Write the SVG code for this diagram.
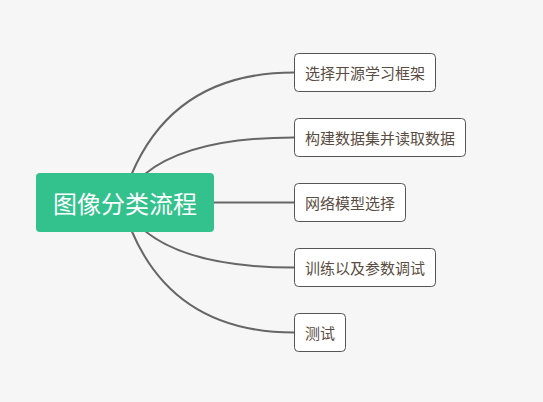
<svg xmlns="http://www.w3.org/2000/svg" width="543" height="402" viewBox="0 0 543 402">
<style>
.bg{fill:#f6f6f6}
.conn path{fill:none;stroke:#666;stroke-width:2}
.child rect{fill:#fff;stroke:#555;stroke-width:1}
.child text{font-family:"Noto Sans CJK SC","Noto Sans",sans-serif;font-size:15px;fill:#5a4c42;dominant-baseline:central}
.root rect{fill:#33c18d}
.root text{font-family:"Noto Sans CJK SC","Noto Sans",sans-serif;font-size:24px;fill:#fff;dominant-baseline:central;text-anchor:middle}
</style>
<rect class="bg" x="0" y="0" width="543" height="402"/>
<g id="connectors" class="conn">
<path d="M131.7 174 Q175 72.5 294 72.5"/>
<path d="M145 174 Q190 137.5 294 137.5"/>
<path d="M214 202.5 L294 202.5"/>
<path d="M145 231 Q190 267.5 294 267.5"/>
<path d="M131.7 231 Q175 332.5 294 332.5"/>
</g>
<g id="root" class="root">
<rect x="36" y="173" width="178" height="59" rx="4"/>
<text x="125" y="202.5">图像分类流程</text>
</g>
<g id="n1" class="child">
<rect x="294.5" y="53.5" width="141" height="38" rx="4"/>
<text x="305" y="72.5">选择开源学习框架</text>
</g>
<g id="n2" class="child">
<rect x="294.5" y="118.5" width="171" height="38" rx="4"/>
<text x="305" y="137.5">构建数据集并读取数据</text>
</g>
<g id="n3" class="child">
<rect x="294.5" y="183.5" width="111" height="38" rx="4"/>
<text x="305" y="202.5">网络模型选择</text>
</g>
<g id="n4" class="child">
<rect x="294.5" y="248.5" width="141" height="38" rx="4"/>
<text x="305" y="267.5">训练以及参数调试</text>
</g>
<g id="n5" class="child">
<rect x="294.5" y="313.5" width="51" height="38" rx="4"/>
<text x="305" y="332.5">测试</text>
</g>
</svg>
